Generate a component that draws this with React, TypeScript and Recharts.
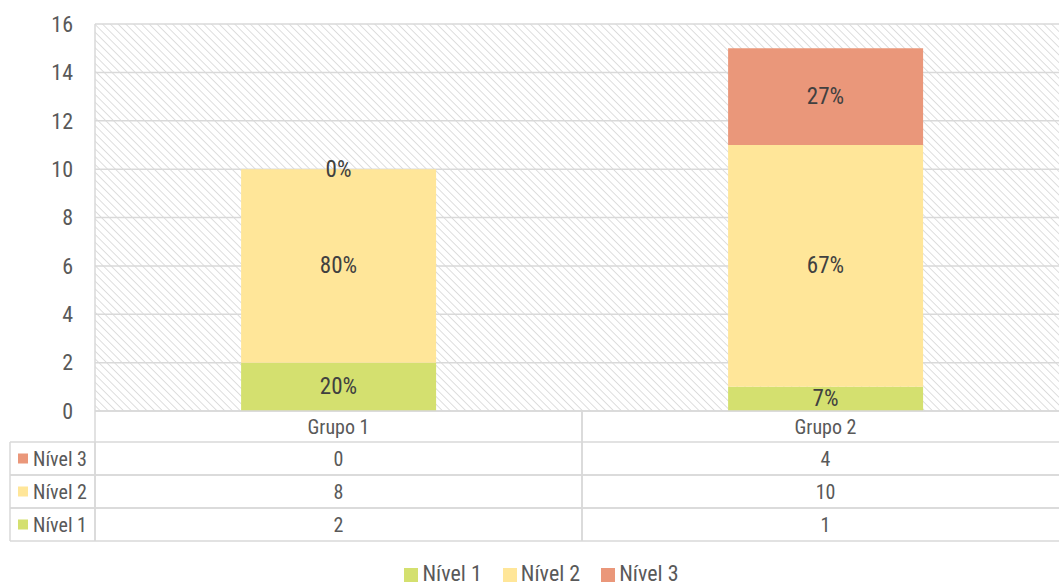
import React from "react";
import {
  ComposedChart,
  Bar,
  Line,
  XAxis,
  YAxis,
  CartesianGrid,
  Legend,
  LabelList,
} from "recharts";

// Categories and series values
const groups = ["Grupo 1", "Grupo 2"];
const nivel1 = [2, 1];
const nivel2 = [8, 10];
const nivel3 = [0, 4];
const yTicks = [0, 2, 4, 6, 8, 10, 12, 14, 16];

const series = [
  { key: "n1", name: "Nível 1", values: nivel1, color: "#d4e06f" },
  { key: "n2", name: "Nível 2", values: nivel2, color: "#ffe699" },
  { key: "n3", name: "Nível 3", values: nivel3, color: "#ea977a" },
];

// One row per group: stacked values, plus the middle of each stacked
// segment (where its share label sits)
const data = groups.map((g, i) => {
  const row: any = { name: g, total: 0 };
  let base = 0;
  series.forEach((s) => {
    const v = s.values[i];
    row[s.key] = v;
    row[`${s.key}Mid`] = base + v / 2;
    base += v;
  });
  row.total = base;
  return row;
});

const FONT = "'Liberation Sans Narrow', 'Arial Narrow', 'Roboto Condensed', sans-serif";
const TEXT = "#595959";
const LINE = "#d9d9d9";
const CAT_H = 31;
const ROW_H = 33;
const TABLE_LEFT = 10;
const TABLE_FS = 20;

// Category header cell of the data table
const CatTick = (props: any) => {
  const { x, y, payload } = props;
  const off = payload.offset ?? 0;
  return (
    <g>
      <line x1={x - off} x2={x - off} y1={y} y2={y + CAT_H} stroke={LINE} strokeWidth={1.5} />
      <line x1={x + off} x2={x + off} y1={y} y2={y + CAT_H} stroke={LINE} strokeWidth={1.5} />
      <text x={x} y={y + CAT_H / 2} textAnchor="middle" dominantBaseline="central" fill={TEXT} fontSize={TABLE_FS} fontFamily={FONT}>
        {payload.value}
      </text>
    </g>
  );
};

// Value cell of a data table row
const makeRowTick = (values: number[]) => (props: any) => {
  const { x, y, payload, index } = props;
  const off = payload.offset ?? 0;
  return (
    <g>
      <line x1={x - off} x2={x - off} y1={y} y2={y + ROW_H} stroke={LINE} strokeWidth={1.5} />
      <line x1={x + off} x2={x + off} y1={y} y2={y + ROW_H} stroke={LINE} strokeWidth={1.5} />
      <text x={x} y={y + ROW_H / 2} textAnchor="middle" dominantBaseline="central" fill={TEXT} fontSize={TABLE_FS} fontFamily={FONT}>
        {values[index]}
      </text>
    </g>
  );
};

// Row header (legend key + series name) at the left of each table row
const makeRowHead = (name: string, color: string) => (props: any) => {
  const vb = props.viewBox || {};
  const { x, y, width } = vb;
  return (
    <g>
      <line x1={TABLE_LEFT} x2={x} y1={y} y2={y} stroke={LINE} strokeWidth={1.5} />
      <line x1={TABLE_LEFT} x2={x + width} y1={y + ROW_H} y2={y + ROW_H} stroke={LINE} strokeWidth={1.5} />
      <line x1={TABLE_LEFT} x2={TABLE_LEFT} y1={y} y2={y + ROW_H} stroke={LINE} strokeWidth={1.5} />
      <line x1={x} x2={x} y1={y} y2={y + ROW_H} stroke={LINE} strokeWidth={1.5} />
      <rect x={TABLE_LEFT + 8} y={y + ROW_H / 2 - 5} width={10} height={10} fill={color} />
      <text x={TABLE_LEFT + 23} y={y + ROW_H / 2} dominantBaseline="central" fill={TEXT} fontSize={TABLE_FS} fontFamily={FONT}>
        {name}
      </text>
    </g>
  );
};

// Share of a segment within its group, written at the segment centre
const makePctLabel = (values: number[]) => (props: any) => {
  const { x, y, index } = props;
  if (x == null || y == null) return null;
  const pct = Math.round((values[index] / data[index].total) * 100);
  return (
    <text
      x={x}
      y={y}
      textAnchor="middle"
      dominantBaseline="central"
      fill="#404040"
      fontSize={23}
      fontFamily={FONT}
    >
      {pct}%
    </text>
  );
};

const tableRows = [...series].reverse();
const rowIds = ["b_n3", "c_n2", "d_n1"];

export default function App() {
  return (
    <div style={{ position: "absolute", left: 0, top: 0, width: 1059, height: 586, overflow: "hidden", background: "#fff" }}>
      <ComposedChart
        width={1069}
        height={586}
        data={data}
        margin={{ top: 24, right: 0, left: 0, bottom: 20 }}
        barCategoryGap="30%"
      >
        <defs>
          <pattern id="hatch" patternUnits="userSpaceOnUse" width={5.5} height={5.5} patternTransform="rotate(-45)">
            <rect width={5.5} height={5.5} fill="#ffffff" />
            <line x1={0} y1={0} x2={0} y2={5.5} stroke="#d3d3d3" strokeWidth={1.5} />
          </pattern>
        </defs>
        <CartesianGrid
          xAxisId="z_grid"
          fill="url(#hatch)"
          fillOpacity={1}
          stroke={LINE}
          strokeWidth={1.5}
        />
        <XAxis
          xAxisId="a_cat"
          dataKey="name"
          height={CAT_H}
          tickSize={0}
          tickMargin={0}
          tickLine={false}
          axisLine={{ stroke: LINE, strokeWidth: 1.5 }}
          tick={<CatTick />}
          interval={0}
        />
        {tableRows.map((s, i) => (
          <XAxis
            key={s.key}
            xAxisId={rowIds[i]}
            dataKey="name"
            height={ROW_H}
            tickSize={0}
            tickMargin={0}
            tickLine={false}
            axisLine={{ stroke: LINE, strokeWidth: 1.5 }}
            tick={makeRowTick(s.values)}
            interval={0}
            label={{ content: makeRowHead(s.name, s.color) }}
          />
        ))}
        <XAxis xAxisId="z_grid" type="number" domain={[0, 2]} ticks={[0, 1, 2]} height={0} hide />
        <YAxis
          width={95}
          domain={[0, 16]}
          ticks={yTicks}
          axisLine={false}
          tickLine={false}
          tickMargin={16}
          tick={{ fill: TEXT, fontSize: 22, fontFamily: FONT }}
        />
        <Legend
          verticalAlign="bottom"
          iconType="square"
          iconSize={14}
          wrapperStyle={{ bottom: 0, paddingLeft: 12, fontFamily: FONT, fontSize: 22 }}
          formatter={(v: string, _e: any, i: number) => (
            <span style={{ color: TEXT, marginRight: i < series.length - 1 ? 11 : 0 }}>{v}</span>
          )}
        />
        {series.map((s) => (
          <Bar
            key={s.key}
            dataKey={s.key}
            name={s.name}
            xAxisId="a_cat"
            stackId="a"
            fill={s.color}
            isAnimationActive={false}
          />
        ))}
        {series.map((s) => (
          <Line
            key={`${s.key}-lbl`}
            dataKey={`${s.key}Mid`}
            xAxisId="a_cat"
            stroke="none"
            dot={false}
            activeDot={false}
            legendType="none"
            isAnimationActive={false}
          >
            <LabelList dataKey={`${s.key}Mid`} content={makePctLabel(s.values)} />
          </Line>
        ))}
      </ComposedChart>
    </div>
  );
}
